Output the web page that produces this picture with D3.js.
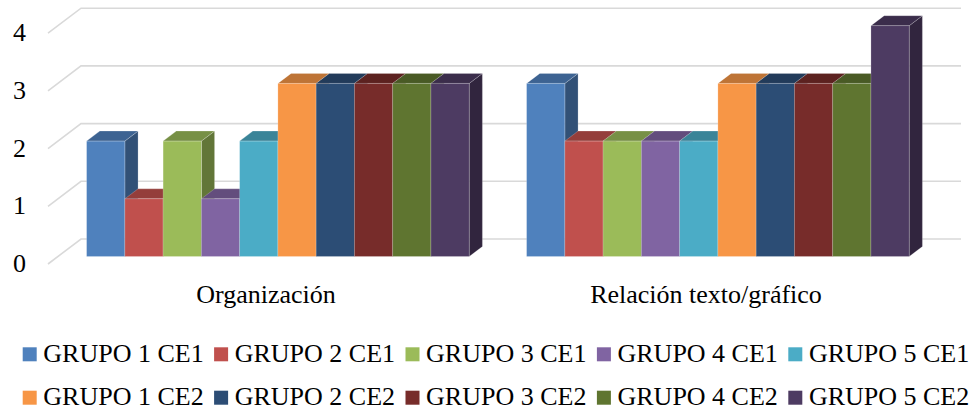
<!DOCTYPE html>
<html><head><meta charset="utf-8"><script src="https://cdn.jsdelivr.net/npm/d3@7"></script></head>
<body style="margin:0">
<svg id="chart" width="974" height="412"></svg>
<script>
// Categories and series
const categories = ["Organización", "Relación texto/gráfico"];
const seriesNames = [
  "GRUPO 1 CE1", "GRUPO 2 CE1", "GRUPO 3 CE1", "GRUPO 4 CE1", "GRUPO 5 CE1",
  "GRUPO 1 CE2", "GRUPO 2 CE2", "GRUPO 3 CE2", "GRUPO 4 CE2", "GRUPO 5 CE2"
];
// Values per category, one per series
const organizacion = [2, 1, 2, 1, 2, 3, 3, 3, 3, 3];
const relacion     = [3, 2, 2, 2, 2, 3, 3, 3, 3, 4];
const yTicks = [0, 1, 2, 3, 4];
const seriesColors = [
  "#4F81BD", "#C0504D", "#9BBB59", "#8064A2", "#4BACC6",
  "#F79646", "#2C4D75", "#772C2A", "#5F7530", "#4D3B62"
];

const values = { "Organización": organizacion, "Relación texto/gráfico": relacion };
const serifFamily = "Liberation Serif";

const svg = d3.select("#chart");

// 3D frame: front floor edge, depth vector, bar depth slice
const floorLeft = 48, floorRight = 928, floorY = 264;
const depthX = 33, depthY = -25;
const barFront = 0.3, barBack = 0.7;

const x0 = d3.scaleBand().domain(categories).range([floorLeft, floorRight]);
const x1 = d3.scaleBand().domain(seriesNames).range([0, x0.bandwidth()])
  .paddingInner(0).paddingOuter(0.75);
const h = d3.scaleLinear().domain([0, 4]).range([0, 230.8]);

// Gridlines on side wall and back wall
const grid = svg.append("g");
yTicks.forEach(t => {
  const y = floorY - h(t);
  grid.append("path")
    .attr("d", `M${floorLeft},${y}L${floorLeft + depthX},${y + depthY}L${floorRight + depthX},${y + depthY}`)
    .attr("fill", "none")
    .attr("stroke", "#D9D9D9")
    .attr("stroke-width", 1.6);
});

// Value axis labels
svg.append("g").selectAll("text").data(yTicks).join("text")
  .attr("x", 26)
  .attr("y", d => floorY - h(d) + 8)
  .attr("text-anchor", "end")
  .attr("font-size", 26)
  .style("font-family", () => `"${serifFamily}"`)
  .text(d => d);

// Bars
const bx = depthX * barFront, by = depthY * barFront;
const ddx = depthX * (barBack - barFront), ddy = depthY * (barBack - barFront);
const barsG = svg.append("g");
categories.forEach(cat => {
  seriesNames.forEach((s, i) => {
    const v = values[cat][i];
    const xl = x0(cat) + x1(s) + bx;
    const xr = xl + x1.bandwidth();
    const yb = floorY + by;
    const yt = yb - h(v);
    const c = d3.color(seriesColors[i]);
    const top = d3.rgb(c.r * 0.77, c.g * 0.77, c.b * 0.77);
    const side = d3.rgb(c.r * 0.63, c.g * 0.63, c.b * 0.63);
    const g = barsG.append("g");
    // side face
    g.append("path")
      .attr("d", `M${xr},${yb}L${xr + ddx},${yb + ddy}L${xr + ddx},${yt + ddy}L${xr},${yt}Z`)
      .attr("fill", side).attr("stroke", "rgba(255,255,255,0.25)").attr("stroke-width", 0.8);
    // top face
    g.append("path")
      .attr("d", `M${xl},${yt}L${xl + ddx},${yt + ddy}L${xr + ddx},${yt + ddy}L${xr},${yt}Z`)
      .attr("fill", top).attr("stroke", "rgba(255,255,255,0.25)").attr("stroke-width", 0.8);
    // front face
    g.append("rect")
      .attr("x", xl).attr("y", yt)
      .attr("width", xr - xl).attr("height", yb - yt)
      .attr("fill", c).attr("stroke", "rgba(255,255,255,0.25)").attr("stroke-width", 0.8);
  });
});

// Category labels
svg.append("g").selectAll("text").data(categories).join("text")
  .attr("x", d => x0(d) + x0.bandwidth() / 2 - 2)
  .attr("y", 303)
  .attr("text-anchor", "middle")
  .attr("font-size", 26)
  .style("font-family", () => `"${serifFamily}"`)
  .text(d => d);

// Legend: two rows of five
const legendCol = d3.scaleLinear().domain([0, 1]).range([22.7, 214.1]);
const legendRow = [354.3, 397.7];
const legend = svg.append("g").selectAll("g").data(seriesNames).join("g")
  .attr("transform", (d, i) => `translate(${legendCol(i % 5)},${legendRow[Math.floor(i / 5)]})`);
legend.append("rect")
  .attr("x", 0).attr("y", -7).attr("width", 14).attr("height", 14)
  .attr("fill", (d, i) => seriesColors[i]);
legend.append("text")
  .attr("x", 20.6).attr("y", 7.5)
  .attr("font-size", 26)
  .style("font-family", () => `"${serifFamily}"`)
  .text(d => d);
</script>
</body></html>
